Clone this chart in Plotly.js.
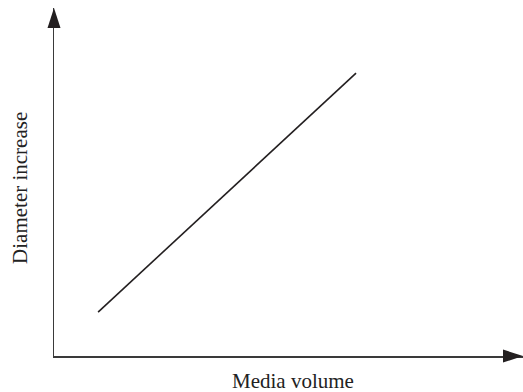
<!DOCTYPE html>
<html>
<head>
<meta charset="utf-8">
<script src="https://cdn.plot.ly/plotly-3.0.1.min.js"></script>
<style>html,body{margin:0;padding:0;background:#fff;}#chart{width:523px;height:392px;}</style>
</head>
<body>
<div id="chart"></div>
<script>
// Data (arbitrary units, no tick labels shown)
const lineX = [0.94, 6.44];
const lineY = [1.26, 8.13];
const xTitle = "Media volume";
const yTitle = "Diameter increase";

const ink = "#231f20";
const axisInk = "#3a3a3a";
const font = "Liberation Serif, Times New Roman, serif";

const trace = {
  x: lineX, y: lineY, type: "scatter", mode: "lines",
  line: {color: ink, width: 1.6}, hoverinfo: "skip", showlegend: false
};

const layout = {
  width: 523, height: 392,
  margin: {l: 54, r: 0, t: 8, b: 36},
  paper_bgcolor: "#fff", plot_bgcolor: "#fff",
  showlegend: false,
  xaxis: {
    range: [0, 10], showgrid: false, zeroline: false, showticklabels: false, ticks: "",
    showline: true, linecolor: axisInk, linewidth: 1.5
  },
  yaxis: {
    range: [0, 10], showgrid: false, zeroline: false, showticklabels: false, ticks: "",
    showline: true, linecolor: axisInk, linewidth: 1.5
  },
  annotations: [
    {text: xTitle, xref: "paper", yref: "paper", x: 0.5096, y: -0.072,
     xanchor: "center", yanchor: "middle", showarrow: false,
     font: {family: font, size: 21, color: "#222"}},
    {text: yTitle, xref: "paper", yref: "paper", x: -0.0725, y: 0.483,
     xanchor: "center", yanchor: "middle", showarrow: false, textangle: -90,
     font: {family: font, size: 21, color: "#222"}}
  ],
  shapes: [
    {type: "path", xref: "paper", yref: "paper", xsizemode: "pixel", ysizemode: "pixel",
     xanchor: 0, yanchor: 1, path: "M0,0 L-6.5,-20 L6.5,-20 Z",
     fillcolor: ink, line: {width: 0}, layer: "above"},
    {type: "path", xref: "paper", yref: "paper", xsizemode: "pixel", ysizemode: "pixel",
     xanchor: 1, yanchor: 0, path: "M0,0 L-20,-6.5 L-20,6.5 Z",
     fillcolor: ink, line: {width: 0}, layer: "above"}
  ]
};

Plotly.newPlot("chart", [trace], layout, {displayModeBar: false, staticPlot: true});
</script>
</body>
</html>
